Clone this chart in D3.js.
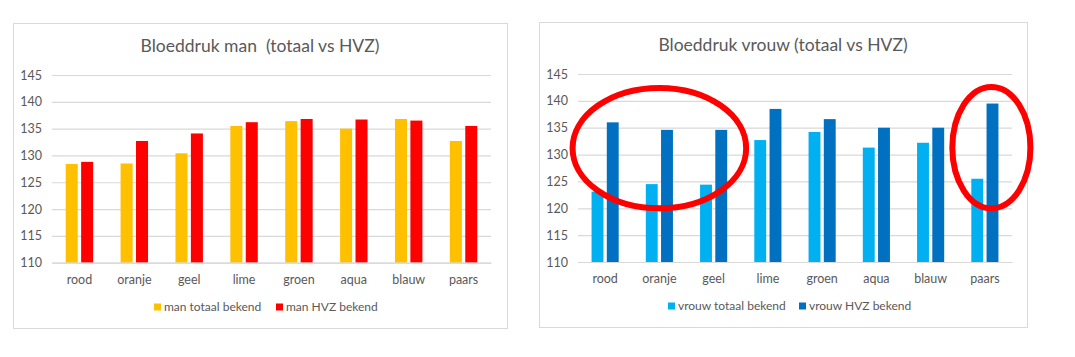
<!DOCTYPE html>
<html><head><meta charset="utf-8">
<script src="https://cdn.jsdelivr.net/npm/d3@7"></script>
<style>body{margin:0;background:#fff}svg{display:block}text{font-family:Lato,"Open Sans",sans-serif}</style>
</head><body>
<svg id="c" width="1075" height="357"></svg>
<script>
const categories = ["rood","oranje","geel","lime","groen","aqua","blauw","paars"];
const yTicks = [110,115,120,125,130,135,140,145];
const manTotaal = [128.4,128.5,130.4,135.5,136.4,135.0,136.8,132.7];
const manHVZ = [128.8,132.7,134.1,136.2,136.8,136.7,136.5,135.5];
const vrouwTotaal = [123.1,124.5,124.4,132.7,134.2,131.3,132.2,125.5];
const vrouwHVZ = [136.0,134.6,134.6,138.5,136.6,135.0,135.0,139.5];
const manSeries = ["man totaal bekend","man HVZ bekend"];
const vrouwSeries = ["vrouw totaal bekend","vrouw HVZ bekend"];
// annotations (highlight ellipses) on the right chart: center category, center value, half-width in bands, half-height in value units
const highlights = [{cat:"oranje", value:131.2, rBands:1.6, rValue:11.2},{cat:"paars", value:131.3, rBands:0.72, rValue:11.3, shift:0.12}];

const svg = d3.select("#c");
svg.append("rect").attr("width",1075).attr("height",357).attr("fill","#fff");

function chart(o){
  const g = svg.append("g");
  g.append("rect").attr("x",o.fx+0.5).attr("y",o.fy+0.5).attr("width",o.fw).attr("height",o.fh)
    .attr("fill","#fff").attr("stroke","#d9d9d9").attr("stroke-width",1);
  g.append("text").attr("x",o.fx+o.fw/2).attr("y",o.titleY).attr("text-anchor","middle")
    .attr("font-size",17.5).attr("fill","#595959").style("white-space","pre").text(o.title);
  const y = d3.scaleLinear().domain([110,145]).range([o.py1,o.py0]);
  const x = d3.scaleBand().domain(categories).range([o.px0,o.px1]);
  const groupW = x.bandwidth()*0.5;
  const xs = d3.scaleBand().domain(o.series).range([0,groupW]).paddingInner(0.22);
  // gridlines
  const yAxis = d3.axisLeft(y).tickValues(yTicks).tickSize(-(o.px1-o.px0)).tickPadding(10);
  const ag = g.append("g").attr("transform",`translate(${o.px0},0)`).call(yAxis);
  ag.select(".domain").remove();
  ag.selectAll(".tick line").attr("stroke","#d9d9d9").attr("stroke-width",1.2);
  ag.selectAll(".tick text").attr("fill","#595959").attr("font-size",12.5).style("font-family","Lato,sans-serif");
  // bars
  o.series.forEach((s,si)=>{
    g.append("g").selectAll("rect").data(o.values[si]).join("rect")
      .attr("x",(d,i)=>x(categories[i])+(x.bandwidth()-groupW)/2+xs(s))
      .attr("width",xs.bandwidth())
      .attr("y",d=>y(d)).attr("height",d=>y(110)-y(d))
      .attr("fill",o.colors[si]);
  });
  // x axis
  const xAxis = d3.axisBottom(x).tickSize(0).tickPadding(12);
  const xg = g.append("g").attr("transform",`translate(0,${o.py1})`).call(xAxis);
  xg.select(".domain").attr("stroke","#d9d9d9").attr("stroke-width",1.2);
  xg.selectAll(".tick text").attr("fill","#595959").attr("font-size",12.5).style("font-family","Lato,sans-serif");
  // legend
  const lg = g.append("g");
  o.series.forEach((s,si)=>{
    lg.append("rect").attr("x",o.legendX[si]).attr("y",o.legendY-3.5).attr("width",7).attr("height",7).attr("fill",o.colors[si]);
    lg.append("text").attr("x",o.legendX[si]+10).attr("y",o.legendY).attr("dy","0.35em")
      .attr("font-size",12).attr("fill","#595959").text(s);
  });
  return {x,y,g};
}

chart({fx:13,fy:23,fw:494,fh:305,px0:52,px1:491,py0:75,py1:262.7,titleY:52,
  title:"Bloeddruk man  (totaal vs HVZ)",series:manSeries,values:[manTotaal,manHVZ],
  colors:["#FFC000","#FF0000"],legendX:[154,276],legendY:307});
const r = chart({fx:539,fy:22,fw:488,fh:305,px0:578,px1:1012,py0:74,py1:262,titleY:51,
  title:"Bloeddruk vrouw (totaal vs HVZ)",series:vrouwSeries,values:[vrouwTotaal,vrouwHVZ],
  colors:["#00B0F0","#0070C0"],legendX:[668,799],legendY:306});

r.g.append("g").selectAll("ellipse").data(highlights).join("ellipse")
  .attr("cx",d=>r.x(d.cat)+r.x.bandwidth()*(0.5+(d.shift||0)))
  .attr("cy",d=>r.y(d.value))
  .attr("rx",d=>r.x.bandwidth()*d.rBands)
  .attr("ry",d=>r.y(110)-r.y(110+d.rValue))
  .attr("fill","none").attr("stroke","#FF0000").attr("stroke-width",6);
</script>
</body></html>
